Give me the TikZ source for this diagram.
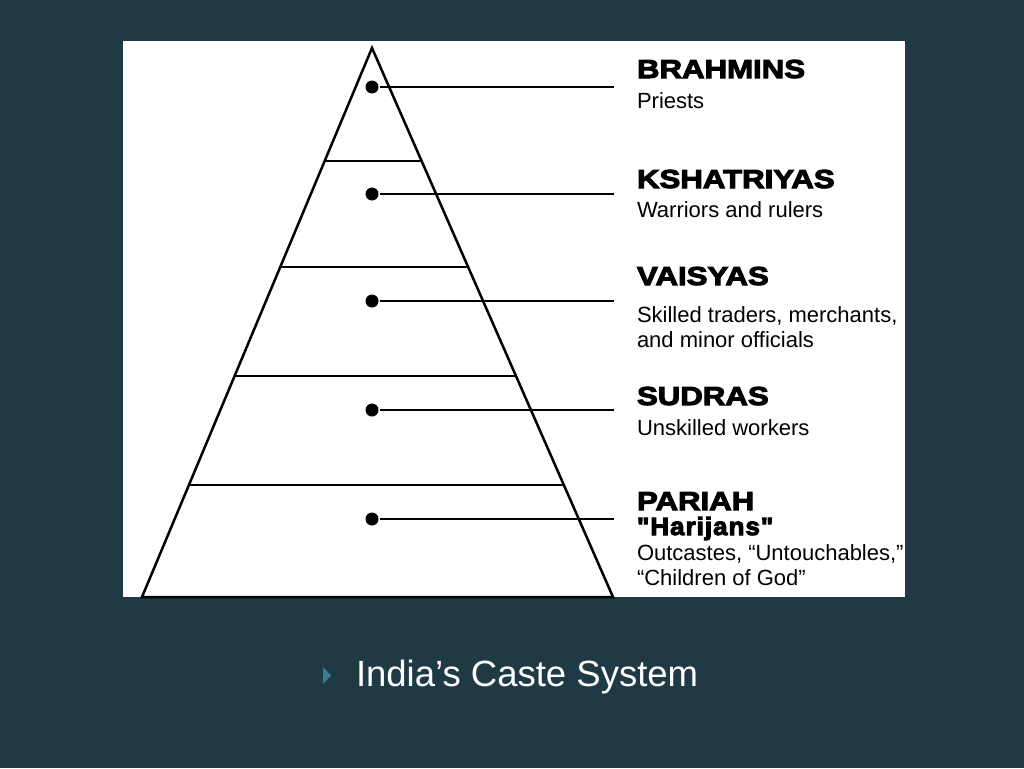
\documentclass[tikz,border=0pt]{standalone}
\usepackage{fontspec}
\setmainfont{Liberation Sans}
\newfontfamily\castefont[FakeStretch=1.2,FakeBold=4]{Liberation Sans Bold}
\newfontfamily\aliasfont[FakeStretch=1.04,FakeBold=4,LetterSpace=4]{Liberation Sans Bold}
\usetikzlibrary{calc}
\definecolor{slide}{HTML}{1F3A45}
\definecolor{bullet}{HTML}{3B7F8C}

\begin{document}
\begin{tikzpicture}[x=1pt, y=-1pt, line width=2pt,
		tierdot/.style={circle, fill, inner sep=0pt, minimum size=13pt},
		castename/.style={anchor=base west, inner sep=0pt, font=\castefont\fontsize{26}{26}\selectfont},
		castenote/.style={anchor=base west, inner sep=0pt, font=\fontsize{22}{25}\selectfont}]
	\fill[slide] (0,0) rectangle (1024,768);
	\useasboundingbox (0,0) rectangle (1024,768);
	\fill[white] (123,41) rectangle (905,597);
	% the pyramid and its tiers
	\coordinate (apex) at (372,48);
	\coordinate (baseL) at (142,597);
	\coordinate (baseR) at (613,597);
	\draw[line width=2.5pt] (baseL) -- (apex) -- (baseR) -- cycle;
	\foreach \y in {161,267,376,485}
		\draw ($(apex)!{(\y-48)/549}!(baseL)$) -- ($(apex)!{(\y-48)/549}!(baseR)$);
	\foreach \y/\n in {87/brahmins,194/kshatriyas,301/vaisyas,410/sudras,519/pariah}{
		\node[tierdot] (\n) at (372,\y) {};
		\coordinate (\n end) at (614,\y);
		\draw (\n) -- (\n end);
	}
	% labels
	\node[castename] (brahmins name) at (636,78) {BRAHMINS};
	\node[castenote] (brahmins note) at (636,108) {Priests};
	\node[castename] (kshatriyas name) at (636,188) {KSHATRIYAS};
	\node[castenote] (kshatriyas note) at (636,217) {Warriors and rulers};
	\node[castename] (vaisyas name) at (636,285) {VAISYAS};
	\node[castenote] (vaisyas note) at (636,322) {Skilled traders, merchants,};
	\node[castenote] (vaisyas note2) at (636,347) {and minor officials};
	\node[castename] (sudras name) at (636,405) {SUDRAS};
	\node[castenote] (sudras note) at (636,435) {Unskilled workers};
	\node[castename] (pariah name) at (636,510) {PARIAH};
	\node[castename, font=\aliasfont\fontsize{25}{25}\selectfont] (pariah alias) at (636,535) {"Harijans"};
	\node[castenote] (pariah note) at (636,560) {Outcastes, “Untouchables,”};
	\node[castenote] (pariah note2) at (636,585) {“Children of God”};
	% caption
	\fill[bullet] (323,667) -- (331,675.5) -- (323,684) -- cycle;
	\node[anchor=base west, inner sep=0pt, text=white, font=\fontsize{36.5}{36.5}\selectfont] (caption) at (355,686) {India’s Caste System};
\end{tikzpicture}
\end{document}
